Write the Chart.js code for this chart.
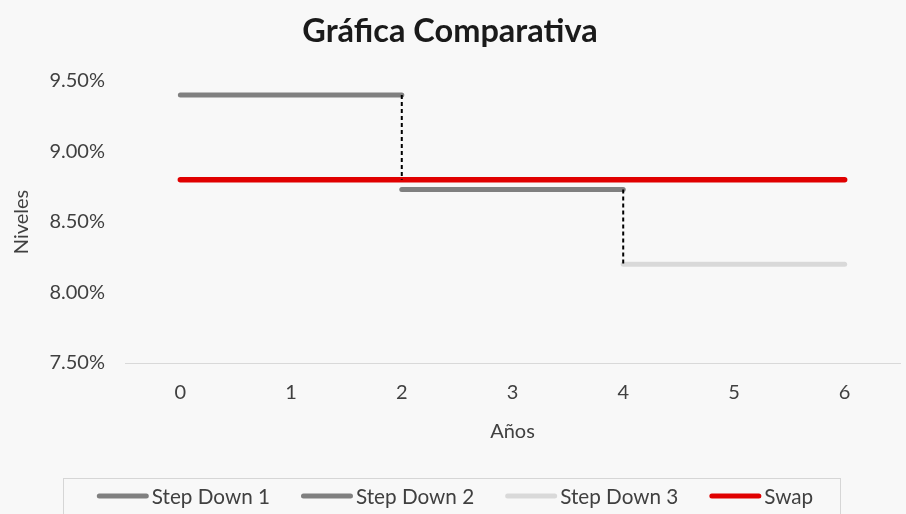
<!DOCTYPE html>
<html><head><meta charset="utf-8">
<script src="https://cdn.jsdelivr.net/npm/chart.js@4/dist/chart.umd.min.js"></script>
<style>html,body{margin:0;padding:0;background:#f8f8f8;}canvas{display:block}</style>
</head><body>
<canvas id="c" width="906" height="514"></canvas>
<script>
// ---- data ----
const years = [0, 1, 2, 3, 4, 5, 6];
const levelTicks = [7.5, 8.0, 8.5, 9.0, 9.5];
const stepDown1Years = [0, 2];
const stepDown1Levels = [9.40, 9.40];
const stepDown2Years = [2, 4];
const stepDown2Levels = [8.73, 8.73];
const stepDown3Years = [4, 6];
const stepDown3Levels = [8.20, 8.20];
const swapYears = [0, 6];
const swapLevels = [8.80, 8.80];
const drop1Years = [2, 2];
const drop1Levels = [9.40, 8.80];
const drop2Years = [4, 4];
const drop2Levels = [8.73, 8.20];

const pts = (xs, ys) => xs.map((x, i) => ({x, y: ys[i]}));
const FONT = 'Lato';
Chart.defaults.font.family = FONT;

const lineDs = (label, xs, ys, color, width, order) => ({
  label, data: pts(xs, ys), borderColor: color, backgroundColor: color,
  borderWidth: width, showLine: true, pointRadius: 0, borderCapStyle: 'round',
  inLegend: true, order
});
const dropDs = (xs, ys) => ({
  label: '', data: pts(xs, ys), borderColor: '#000', borderWidth: 2,
  borderDash: [4, 3], showLine: true, pointRadius: 0, inLegend: false, order: 0
});

const bg = {id: 'bg', beforeDraw(c) { const x = c.ctx; x.save(); x.fillStyle = '#f8f8f8'; x.fillRect(0, 0, c.width, c.height); x.restore(); }};

const legendBox = {
  id: 'legendBox',
  afterDraw(chart) {
    const ctx = chart.ctx;
    const items = chart.data.datasets.filter(d => d.inLegend);
    ctx.save();
    ctx.font = '20.7px ' + FONT;
    const sample = 52, gapTxt = 3, gapItem = 31;
    const widths = items.map(d => sample + gapTxt + ctx.measureText(d.label).width);
    const total = widths.reduce((a, b) => a + b, 0) + gapItem * (items.length - 1);
    let x = 455 - total / 2;
    const y = 496;
    ctx.strokeStyle = '#d6d6d6'; ctx.lineWidth = 1;
    ctx.strokeRect(63.5, 478.5, 777, 60);
    items.forEach((d, i) => {
      ctx.strokeStyle = d.borderColor; ctx.lineWidth = 5; ctx.lineCap = 'round';
      ctx.beginPath(); ctx.moveTo(x + 2.5, y); ctx.lineTo(x + sample - 2.5, y); ctx.stroke();
      ctx.fillStyle = '#404040'; ctx.textBaseline = 'middle'; ctx.textAlign = 'left';
      ctx.fillText(d.label, x + sample + gapTxt, y + 1);
      x += widths[i] + gapItem;
    });
    ctx.restore();
  }
};

new Chart(document.getElementById('c'), {
  type: 'scatter',
  data: {
    datasets: [
      lineDs('Step Down 1', stepDown1Years, stepDown1Levels, '#808080', 5, 3),
      lineDs('Step Down 2', stepDown2Years, stepDown2Levels, '#808080', 5, 3),
      lineDs('Step Down 3', stepDown3Years, stepDown3Levels, '#d9d9d9', 5, 3),
      lineDs('Swap', swapYears, swapLevels, '#e00000', 5.5, 1),
      dropDs(drop1Years, drop1Levels),
      dropDs(drop2Years, drop2Levels)
    ]
  },
  options: {
    responsive: false, animation: false,
    layout: {padding: {left: 0, right: 6, top: 0, bottom: 51}},
    plugins: {
      legend: {display: false},
      tooltip: {enabled: false},
      title: {
        display: true, text: 'Gráfica Comparativa', color: '#1a1a1a',
        font: {size: 32.5, weight: 'bold', family: FONT, lineHeight: 1.2},
        padding: {top: 12.5, bottom: 29.5}
      }
    },
    scales: {
      x: {
        type: 'linear', min: -0.5, max: 6.5,
        afterBuildTicks: s => { s.ticks = years.map(v => ({value: v})); },
        afterFit: s => { s.height = 100; },
        grid: {display: false, drawTicks: false},
        border: {display: true, color: '#d9d9d9', width: 1},
        ticks: {color: '#404040', font: {size: 20}, padding: 18, maxRotation: 0},
        title: {display: true, text: 'Años', color: '#404040', font: {size: 20}, padding: {top: 0, bottom: 19}}
      },
      y: {
        min: 7.5, max: 9.5,
        afterBuildTicks: s => { s.ticks = levelTicks.map(v => ({value: v})); },
        afterFit: s => { s.width = 125; },
        grid: {display: false, drawTicks: false},
        border: {display: false},
        ticks: {color: '#404040', font: {size: 20}, padding: 20, callback: v => v.toFixed(2) + '%'},
        title: {display: true, text: 'Niveles', color: '#404040', font: {size: 20}, padding: {top: 10, bottom: 0}}
      }
    }
  },
  plugins: [bg, legendBox]
});
</script>
</body></html>
